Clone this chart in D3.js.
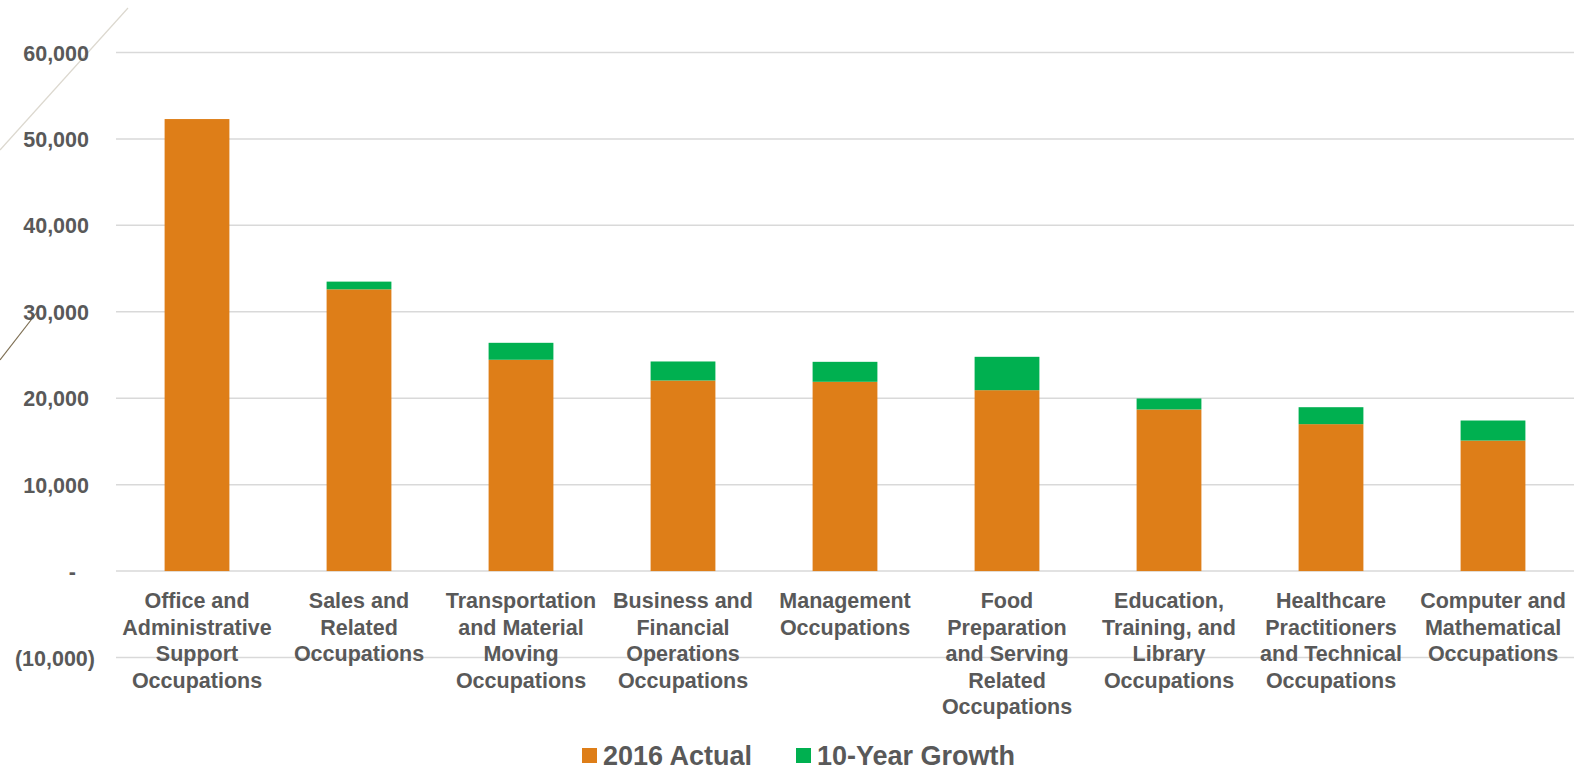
<!DOCTYPE html>
<html>
<head>
<meta charset="utf-8">
<script src="https://cdn.jsdelivr.net/npm/d3@7"></script>
<style>
  html, body { margin: 0; padding: 0; background: #ffffff; }
  svg { display: block; }
</style>
</head>
<body>
<svg id="chart" width="1589" height="772"></svg>
<script>
// ---- Data ----
const categories = [
  "Office and Administrative Support Occupations",
  "Sales and Related Occupations",
  "Transportation and Material Moving Occupations",
  "Business and Financial Operations Occupations",
  "Management Occupations",
  "Food Preparation and Serving Related Occupations",
  "Education, Training, and Library Occupations",
  "Healthcare Practitioners and Technical Occupations",
  "Computer and Mathematical Occupations"
];
const categoryLines = [
  ["Office and", "Administrative", "Support", "Occupations"],
  ["Sales and", "Related", "Occupations"],
  ["Transportation", "and Material", "Moving", "Occupations"],
  ["Business and", "Financial", "Operations", "Occupations"],
  ["Management", "Occupations"],
  ["Food", "Preparation", "and Serving", "Related", "Occupations"],
  ["Education,", "Training, and", "Library", "Occupations"],
  ["Healthcare", "Practitioners", "and Technical", "Occupations"],
  ["Computer and", "Mathematical", "Occupations"]
];
const actual2016 = [52300, 32600, 24450, 22050, 21900, 20930, 18700, 17000, 15100];
const growth10yr = [0, 890, 1960, 2200, 2310, 3860, 1270, 1960, 2320];
const yTicks = [-10000, 0, 10000, 20000, 30000, 40000, 50000, 60000];
const seriesNames = ["2016 Actual", "10-Year Growth"];
const seriesColors = ["#DE7E18", "#00B050"];

// ---- Layout ----
const svg = d3.select("#chart");
const textColor = "#595959";
const fontFamily = "'Liberation Sans', Arial, sans-serif";

const x = d3.scaleBand().domain(categories).range([116, 1574]).paddingInner(0.6).paddingOuter(0.3);
const y = d3.scaleLinear().domain([-10000, 60000]).range([657.5, 52.5]);

// decorative diagonal lines (slide background)
svg.append("line").attr("x1", 0).attr("y1", 150).attr("x2", 128).attr("y2", 8)
  .attr("stroke", "#dcd8cf").attr("stroke-width", 1.2);
svg.append("line").attr("x1", 0).attr("y1", 360).attr("x2", 38).attr("y2", 311)
  .attr("stroke", "#7d6e52").attr("stroke-width", 1.2);

// gridlines
svg.append("g").selectAll("line").data(yTicks).join("line")
  .attr("x1", 116).attr("x2", 1574)
  .attr("y1", d => y(d)).attr("y2", d => y(d))
  .attr("stroke", "#d9d9d9").attr("stroke-width", 1.5);

// y axis labels
const fmt = d3.format(",");
const yAxis = d3.axisLeft(y).tickValues(yTicks).tickSize(0).tickPadding(0)
  .tickFormat(d => d === 0 ? "-" : (d < 0 ? "(" + fmt(-d) + ")" : fmt(d)));
const gy = svg.append("g").attr("transform", "translate(89,0)").call(yAxis);
gy.select(".domain").remove();
gy.selectAll("text")
  .attr("fill", textColor)
  .attr("font-family", fontFamily)
  .attr("font-weight", "bold")
  .attr("font-size", "21.5px")
  .attr("dy", "0.35em")
  .attr("x", d => d === 0 ? -13 : (d < 0 ? 6 : 0));

// bars
const stackData = categories.map((c, i) => ({ cat: c, a: actual2016[i], g: growth10yr[i] }));
const stack = d3.stack().keys(["a", "g"])(stackData);
svg.append("g").selectAll("g").data(stack).join("g")
  .attr("fill", (d, i) => seriesColors[i])
  .selectAll("rect").data(d => d.filter(p => p[1] - p[0] > 0)).join("rect")
  .attr("x", d => x(d.data.cat))
  .attr("width", x.bandwidth())
  .attr("y", d => y(d[1]))
  .attr("height", d => y(d[0]) - y(d[1]));

// category labels
const gl = svg.append("g");
categories.forEach((c, i) => {
  const t = gl.append("text")
    .attr("x", x(c) + x.bandwidth() / 2)
    .attr("y", 608)
    .attr("text-anchor", "middle")
    .attr("fill", textColor)
    .attr("font-family", fontFamily)
    .attr("font-weight", "bold")
    .attr("font-size", "21.5px");
  categoryLines[i].forEach((ln, j) => {
    t.append("tspan").attr("x", x(c) + x.bandwidth() / 2).attr("y", 608 + j * 26.5).text(ln);
  });
});

// legend
const legendX = [582, 796];
const lg = svg.append("g");
seriesNames.forEach((s, i) => {
  lg.append("rect").attr("x", legendX[i]).attr("y", 748).attr("width", 15).attr("height", 15)
    .attr("fill", seriesColors[i]);
  lg.append("text").attr("x", legendX[i] + 21).attr("y", 765)
    .attr("fill", textColor)
    .attr("font-family", fontFamily)
    .attr("font-weight", "bold")
    .attr("font-size", "27px")
    .text(s);
});
</script>
</body>
</html>
